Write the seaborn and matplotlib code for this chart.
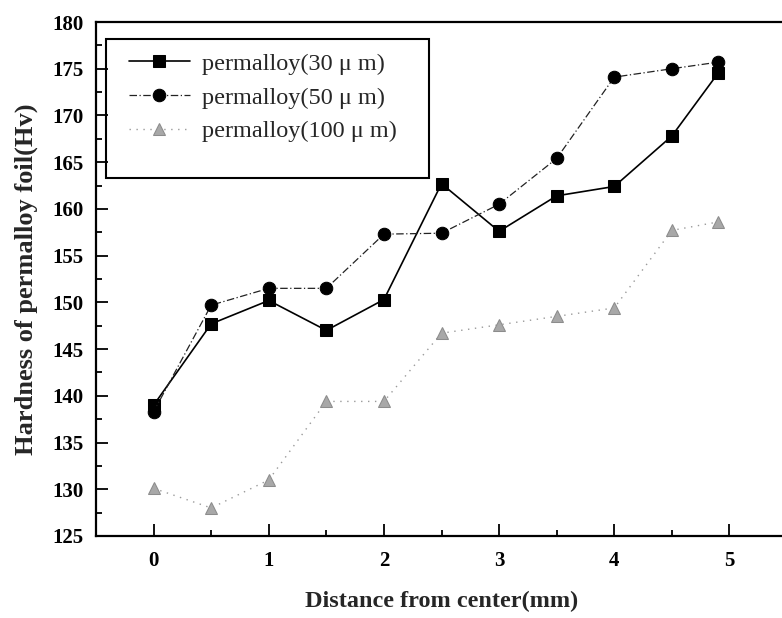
import matplotlib
matplotlib.use("Agg")
import matplotlib.pyplot as plt
from matplotlib.patches import Rectangle
from matplotlib.ticker import MultipleLocator
import seaborn as sns

# Distance from the weld centre (mm)
distance = [0, 0.5, 1, 1.5, 2, 2.5, 3, 3.5, 4, 4.5, 4.9]

# Vickers hardness (Hv) for the three foil thicknesses
hv_30 = [139.0, 147.7, 150.2, 147.0, 150.3, 162.7, 157.6, 161.4, 162.4, 167.8, 174.5]
hv_50 = [138.3, 149.7, 151.5, 151.5, 157.3, 157.4, 160.5, 165.4, 174.1, 175.0, 175.7]
hv_100 = [130.1, 128.0, 131.0, 139.4, 139.4, 146.7, 147.6, 148.5, 149.4, 157.7, 158.6]

labels = ["permalloy(30 \u03bc m)", "permalloy(50 \u03bc m)", "permalloy(100 \u03bc m)"]

sns.set_style("ticks")
plt.rcParams["font.family"] = ["Liberation Serif", "DejaVu Serif"]

fig = plt.figure(figsize=(7.82, 6.18), dpi=100)
ax = fig.add_axes([0.1228, 0.1327, 0.8836, 0.8317])

sns.lineplot(x=distance, y=hv_30, ax=ax, color="black", linewidth=1.2,
             marker="s", markersize=8, markeredgecolor="black",
             markerfacecolor="black", label=labels[0])
sns.lineplot(x=distance, y=hv_50, ax=ax, color="#222222", linewidth=0.9,
             linestyle=(0, (6, 2, 1, 2)), marker="o", markersize=9,
             markeredgecolor="black", markerfacecolor="black", label=labels[1])
sns.lineplot(x=distance, y=hv_100, ax=ax, color="#9a9a9a", linewidth=1.0,
             linestyle=(0, (1, 4)), marker="^", markersize=9,
             markeredgecolor="#8c8c8c", markerfacecolor="#a8a8a8", label=labels[2])

ax.set_xlim(-0.5, 5.5)
ax.set_ylim(125, 180)
ax.xaxis.set_major_locator(MultipleLocator(1))
ax.xaxis.set_minor_locator(MultipleLocator(0.5))
ax.yaxis.set_major_locator(MultipleLocator(5))
ax.yaxis.set_minor_locator(MultipleLocator(2.5))

ax.tick_params(which="both", direction="in", width=1.3, colors="black")
ax.tick_params(which="major", length=8.5)
ax.tick_params(which="minor", length=4.5)
ax.tick_params(axis="x", which="major", pad=11)
ax.tick_params(axis="y", which="major", pad=9)
for lab in ax.get_xticklabels() + ax.get_yticklabels():
    lab.set_fontsize(15)
    lab.set_fontweight("bold")

for side in ["left", "bottom", "top"]:
    ax.spines[side].set_visible(True)
    ax.spines[side].set_linewidth(1.6)
    ax.spines[side].set_color("black")
ax.spines["right"].set_visible(False)

ax.set_xlabel("Distance from center(mm)", fontsize=17.5, fontweight="bold", labelpad=14)
ax.set_ylabel("Hardness of permalloy foil(Hv)", fontsize=19, fontweight="bold", labelpad=10)

# legend with a taller frame drawn separately
ax.add_patch(Rectangle((0.0145, 0.6965), 0.4675, 0.2705, transform=ax.transAxes,
                       fill=False, edgecolor="black", linewidth=1.5, zorder=5))
leg = ax.legend(loc="upper left", bbox_to_anchor=(0.0478, 0.94), frameon=False,
                fontsize=17.5, handlelength=2.5, handletextpad=0.5,
                labelspacing=0.48, borderpad=0, borderaxespad=0)

fig.savefig("out.png", dpi=100)
